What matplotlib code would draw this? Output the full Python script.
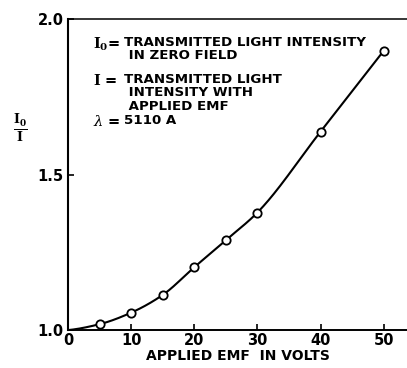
import matplotlib
matplotlib.use("Agg")
import matplotlib.pyplot as plt
import numpy as np

# data
emf_volts = [0, 5, 10, 15, 20, 25, 30, 40, 50]
ratio = [1.0, 1.019, 1.056, 1.113, 1.202, 1.289, 1.378, 1.638, 1.898]
x_ticks = [0, 10, 20, 30, 40, 50]
y_ticks = [1.0, 1.5, 2.0]
y_tick_labels = ["1.0", "1.5", "2.0"]

# text block: (symbol, description lines, top line y in pixels)
legend_blocks = [
    (r"$\mathbf{I_0}$=", "TRANSMITTED LIGHT INTENSITY\n IN ZERO FIELD", 41.7),
    (r"$\mathbf{I}$ =", "TRANSMITTED LIGHT\n INTENSITY WITH\n APPLIED EMF", 79.0),
    (r"$\lambda$ =", "5110 A", 120.0),
]


def pchip(x, y, xs):
    # monotone cubic so the curve runs smoothly through the points without wiggles
    x = np.asarray(x, float)
    y = np.asarray(y, float)
    h = np.diff(x)
    d = np.diff(y) / h
    m = np.zeros_like(y)
    for i in range(1, len(x) - 1):
        if d[i - 1] * d[i] > 0:
            w1 = 2 * h[i] + h[i - 1]
            w2 = h[i] + 2 * h[i - 1]
            m[i] = (w1 + w2) / (w1 / d[i - 1] + w2 / d[i])
    m[0] = d[0] * 0.5
    m[-1] = d[-1]
    out = np.empty_like(xs)
    for j, xv in enumerate(xs):
        i = int(np.clip(np.searchsorted(x, xv, side="right") - 1, 0, len(x) - 2))
        t = (xv - x[i]) / h[i]
        h00 = 2 * t ** 3 - 3 * t ** 2 + 1
        h10 = t ** 3 - 2 * t ** 2 + t
        h01 = -2 * t ** 3 + 3 * t ** 2
        h11 = t ** 3 - t ** 2
        out[j] = h00 * y[i] + h10 * h[i] * m[i] + h01 * y[i + 1] + h11 * h[i] * m[i + 1]
    return out


plt.rcParams["font.family"] = "DejaVu Sans"
plt.rcParams["mathtext.fontset"] = "dejavuserif"

fig = plt.figure(figsize=(4.07, 3.68), dpi=100)
ax = fig.add_axes([0.167, 0.103, 0.833, 0.845])

xs = np.linspace(emf_volts[0], emf_volts[-1], 300)
ax.plot(xs, pchip(emf_volts, ratio, xs), color="black", lw=1.5)
ax.plot(emf_volts[1:], ratio[1:], "o", ms=6, mfc="white", mec="black", mew=1.3)

ax.set_xlim(0, 53.7)
ax.set_ylim(1.0, 2.0)
ax.spines["right"].set_visible(False)
ax.spines["left"].set_linewidth(1.5)
ax.spines["bottom"].set_linewidth(1.4)
ax.spines["top"].set_linewidth(1.1)

ax.set_xticks(x_ticks)
ax.set_yticks(y_ticks)
ax.set_yticklabels(y_tick_labels)
ax.tick_params(axis="both", direction="in", length=4, width=1.2, labelsize=10.5)
ax.tick_params(axis="x", pad=2)
ax.tick_params(axis="y", pad=3)
for lbl in ax.get_xticklabels() + ax.get_yticklabels():
    lbl.set_fontweight("bold")
ax.set_xlabel("APPLIED EMF  IN VOLTS", fontsize=10, fontweight="bold", labelpad=1)

# descriptive text block
for lead, body, top in legend_blocks:
    ypix = 368 - top + 6
    fig.text(93 / 407, ypix / 368, lead, fontsize=10.5, va="top", ha="left",
             fontweight="bold", linespacing=1.0)
    fig.text(124 / 407, ypix / 368, body, fontsize=9.6, va="top", ha="left",
             fontweight="bold", linespacing=1.05)

fig.text(20 / 407, (368 - 128) / 368, r"$\frac{\mathbf{I_0}}{\mathbf{I}}$",
         fontsize=13, ha="center", va="center")

fig.savefig("out.png", dpi=100)
